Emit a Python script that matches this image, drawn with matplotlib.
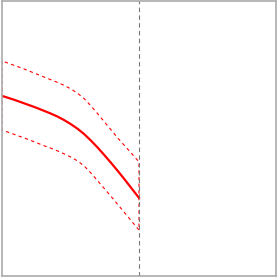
import numpy as np
import matplotlib
matplotlib.use("Agg")
import matplotlib.pyplot as plt

# curve sampled at x = 0, 0.05, ..., 1.0 (vertical marker at x = 1, axis runs to 2)
x = [0.0, 0.05, 0.1, 0.15, 0.2, 0.25, 0.3, 0.35, 0.4, 0.45, 0.5,
     0.55, 0.6, 0.65, 0.7, 0.75, 0.8, 0.85, 0.9, 0.95, 1.0]
mean = [0.655, 0.647, 0.639, 0.630, 0.621, 0.612, 0.602, 0.592, 0.581, 0.568, 0.553,
        0.536, 0.516, 0.492, 0.466, 0.438, 0.409, 0.379, 0.348, 0.316, 0.284]
upper = [0.782, 0.773, 0.764, 0.755, 0.745, 0.735, 0.725, 0.715, 0.705, 0.694, 0.681,
         0.665, 0.645, 0.618, 0.589, 0.559, 0.529, 0.499, 0.471, 0.443, 0.415]
lower = [0.531, 0.522, 0.513, 0.504, 0.495, 0.485, 0.475, 0.466, 0.456, 0.445, 0.433,
         0.419, 0.400, 0.374, 0.345, 0.316, 0.287, 0.257, 0.227, 0.197, 0.167]
x_marker = 1.0

fig = plt.figure(figsize=(2.78, 2.77), dpi=100)
ax = fig.add_axes([2/278, 1/277, 274/278, 275/277])

ax.fill_between(x, lower, upper, facecolor="none", edgecolor="red",
                linestyle=(0, (3, 3)), linewidth=0.8)
ax.plot(x, mean, color="red", lw=1.6)
ax.axvline(x_marker, color="#777777", lw=0.8, ls=(0, (4, 3)))

ax.set_xlim(0, 2)
ax.set_ylim(0, 1)
ax.set_xticks([]); ax.set_yticks([])
for s in ax.spines.values():
    s.set_color("#aaaaaa")
    s.set_linewidth(1.2)

fig.savefig("out.png", dpi=100)
